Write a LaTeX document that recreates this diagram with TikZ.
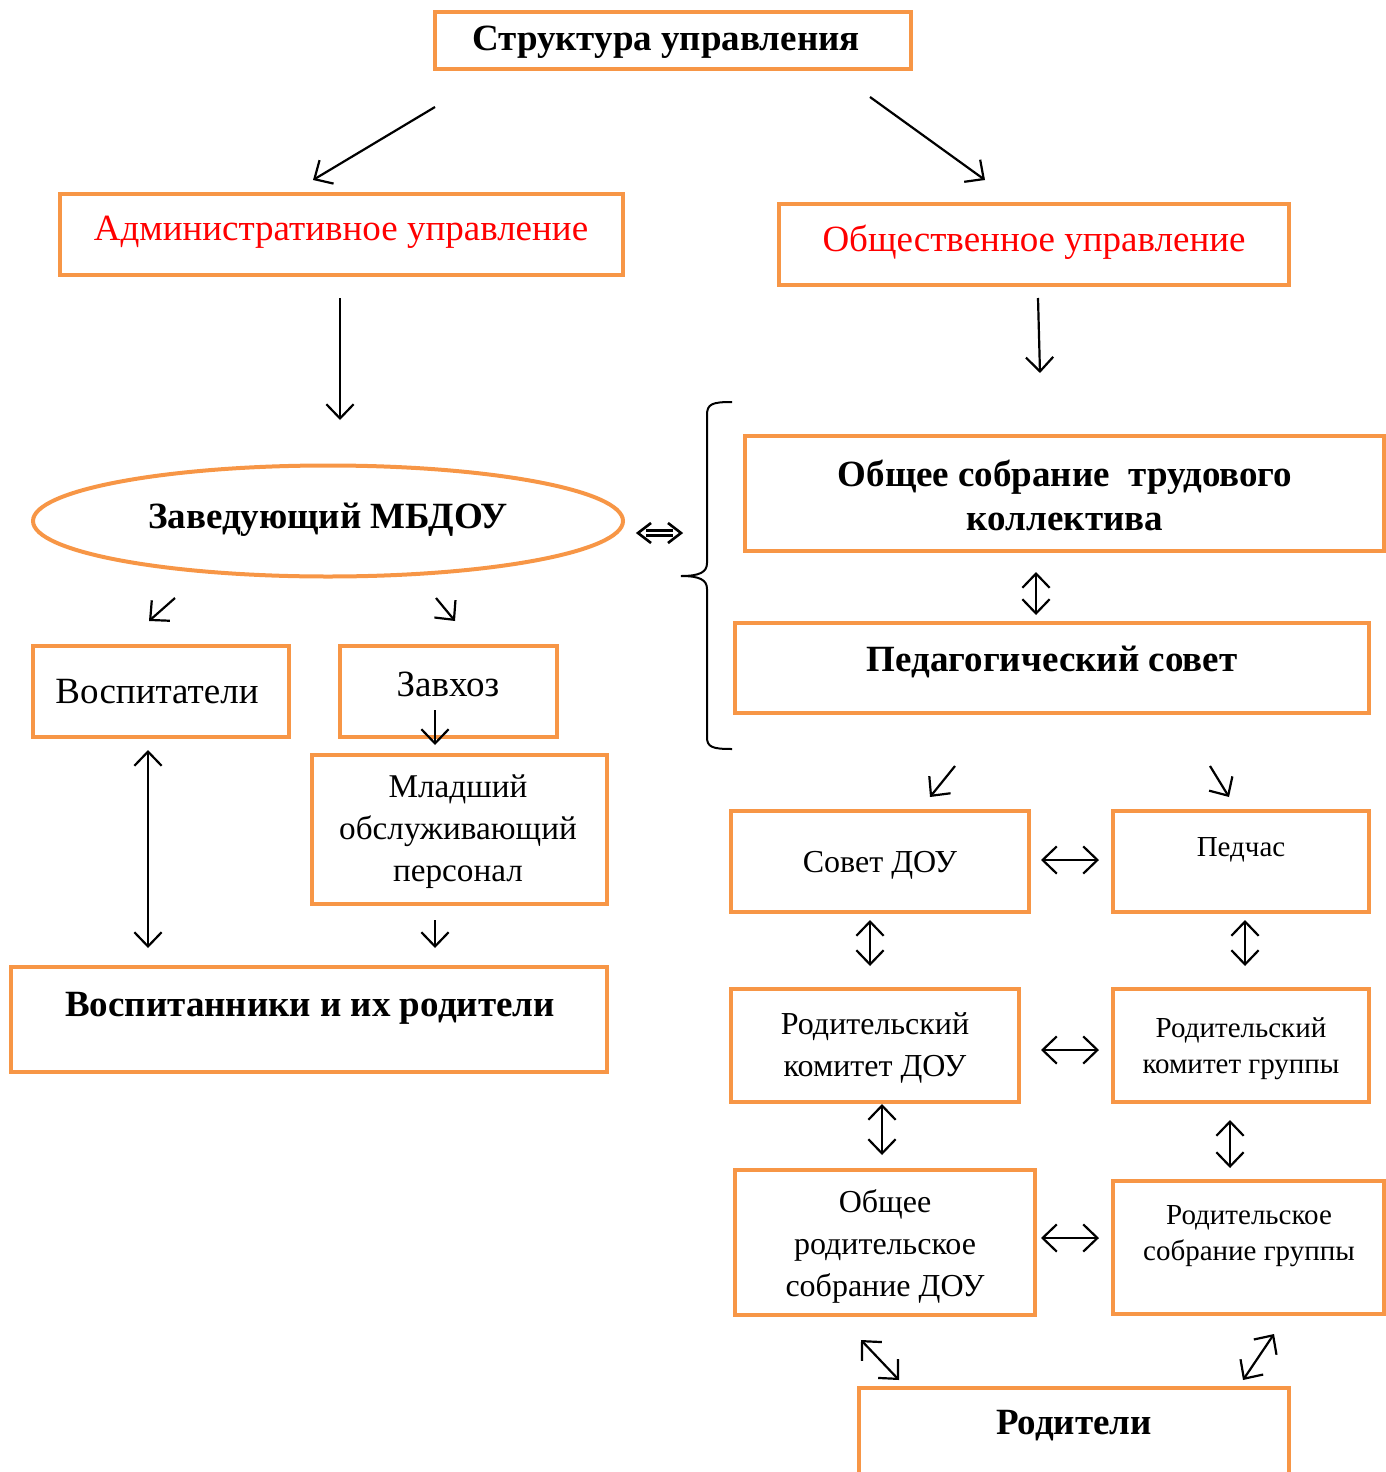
\documentclass[tikz,border=0pt]{standalone}
\usepackage{fontspec}
\setmainfont{Liberation Serif}
\usetikzlibrary{arrows.meta,fit,shapes.geometric}
\definecolor{boxor}{HTML}{F79646}
\definecolor{redt}{HTML}{FF0000}
\tikzset{
  box/.style={draw=boxor, line width=2pt, inner sep=0pt, rectangle},
  tip/.tip={Straight Barb[length=2.5mm,width=4.8mm,line width=1.1pt]},
  arr/.style={line width=1.1pt, -tip},
  darr/.style={line width=1.1pt, tip-tip},
  big/.style={font=\fontsize{18.5}{22}\selectfont},
  bigb/.style={font=\fontsize{18.5}{22}\selectfont\bfseries},
  mid/.style={font=\fontsize{16}{21}\selectfont, align=center},
  sm/.style={font=\fontsize{14.5}{18}\selectfont, align=center},
}
\begin{document}
\begin{tikzpicture}[x=0.5pt,y=-0.5pt]
\useasboundingbox (0,0) rectangle (1386,1472);
% boxes
\node[box, fit={(435,12) (911,69)}] (title) {};
\node[bigb] at (666,42) {Структура управления};
\node[box, fit={(60,194) (623,275)}] (adm) {};
\node[big, text=redt] at (341,232) {Административное управление};
\node[box, fit={(779,204) (1289,285)}] (obsh) {};
\node[big, text=redt] at (1034,242) {Общественное управление};
\node[draw=boxor, line width=2pt, ellipse, minimum width=590*0.5pt, minimum height=111*0.5pt, inner sep=0pt] (zav) at (328,521) {};
\node[bigb] at (328,520) {Заведующий МБДОУ};
\node[box, fit={(745,436) (1384,551)}] (osk) {};
\node[bigb, align=center] at (1065,495) {Общее собрание\ \ трудового\\коллектива};
\node[box, fit={(735,623) (1369,713)}] (ped) {};
\node[bigb] at (1052,662) {Педагогический совет};
\node[box, fit={(33,646) (289,737)}] (vosp) {};
\node[big] at (157,692) {Воспитатели};
\node[box, fit={(340,646) (557,737)}] (zavh) {};
\node[big] at (448,684) {Завхоз};
\node[box, fit={(312,755) (607,904)}] (mlad) {};
\node[align=center, font=\fontsize{16.6}{21}\selectfont] at (458,832) {Младший\\обслуживающий\\персонал};
\node[box, fit={(11,967) (607,1072)}] (vnik) {};
\node[bigb] at (310,1008) {Воспитанники и их родители};
\node[box, fit={(731,811) (1029,912)}] (sovet) {};
\node[mid] at (880,865) {Совет ДОУ};
\node[box, fit={(1113,811) (1369,912)}] (pedch) {};
\node[sm] at (1241,850) {Педчас};
\node[box, fit={(731,989) (1019,1102)}] (rkd) {};
\node[mid] at (875,1048) {Родительский\\комитет ДОУ};
\node[box, fit={(1113,989) (1369,1102)}] (rkg) {};
\node[sm] at (1241,1049) {Родительский\\комитет группы};
\node[box, fit={(735,1170) (1035,1315)}] (ors) {};
\node[mid] at (885,1246) {Общее\\родительское\\собрание ДОУ};
\node[box, fit={(1113,1181) (1384,1314)}] (rsg) {};
\node[sm] at (1249,1236) {Родительское\\собрание группы};
\node[box, fit={(859,1388) (1289,1500)}] (rod) {};
\node[bigb] at (1074,1426) {Родители};
% arrow endpoints
\coordinate (a1s) at (435,107); \coordinate (a1e) at (313,180);
\coordinate (a2s) at (870,97);  \coordinate (a2e) at (985,180);
\coordinate (a3s) at (340,298); \coordinate (a3e) at (340,420);
\coordinate (a4s) at (1038,298); \coordinate (a4e) at (1040,373);
\coordinate (a5s) at (175,598); \coordinate (a5e) at (149,621);
\coordinate (a6s) at (436,598); \coordinate (a6e) at (455,621);
\coordinate (a7s) at (148,750); \coordinate (a7e) at (148,948);
\coordinate (a8s) at (435,710); \coordinate (a8e) at (435,745);
\coordinate (a9s) at (435,920); \coordinate (a9e) at (435,948);
\coordinate (b1s) at (955,766); \coordinate (b1e) at (930,797);
\coordinate (b2s) at (1210,766); \coordinate (b2e) at (1229,797);
\coordinate (c1s) at (1036,572); \coordinate (c1e) at (1036,615);
\coordinate (c2s) at (1041,860); \coordinate (c2e) at (1099,860);
\coordinate (c3s) at (870,920); \coordinate (c3e) at (870,966);
\coordinate (c4s) at (1245,920); \coordinate (c4e) at (1245,966);
\coordinate (c5s) at (1041,1050); \coordinate (c5e) at (1099,1050);
\coordinate (c6s) at (882,1104); \coordinate (c6e) at (882,1155);
\coordinate (c7s) at (1230,1120); \coordinate (c7e) at (1230,1168);
\coordinate (c8s) at (1041,1238); \coordinate (c8e) at (1099,1238);
\coordinate (c9s) at (861,1340); \coordinate (c9e) at (899,1380);
\coordinate (c10s) at (1274,1334); \coordinate (c10e) at (1243,1380);
% arrows
\foreach \n in {a1,a2,a3,a4,a5,a6,a8,a9,b1,b2}
  \draw[arr] (\n s) -- (\n e);
\foreach \n in {a7,c1,c2,c3,c4,c5,c6,c7,c8,c9,c10}
  \draw[darr] (\n s) -- (\n e);
% double arrow (Leftrightarrow)
\coordinate (ddl) at (638,533); \coordinate (ddr) at (681,533);
\draw[line width=1.3pt] (646,530.5) -- (673,530.5) (646,535.5) -- (673,535.5);
\draw[line width=1.3pt, line join=miter] (651,523) -- (ddl) -- (651,543);
\draw[line width=1.3pt, line join=miter] (668,523) -- (ddr) -- (668,543);
% brace
\coordinate (brt) at (732,402); \coordinate (brb) at (732,749); \coordinate (brm) at (681,576);
\draw[line width=1pt] (brt) .. controls (712,402) and (707,404) .. (707,415) -- (707,563)
  .. controls (707,572) and (700,576) .. (brm)
  .. controls (700,576) and (707,580) .. (707,589) -- (707,737)
  .. controls (707,747) and (712,749) .. (brb);
\end{tikzpicture}
\end{document}
